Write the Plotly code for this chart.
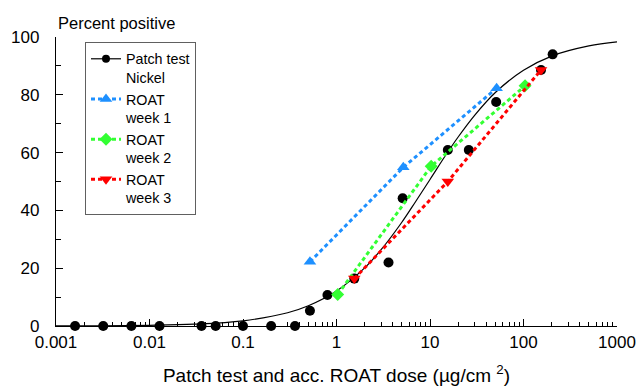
import plotly.graph_objects as go

# Patch test nickel (observed)
patch_x = [0.0016, 0.0032, 0.0064, 0.0128, 0.036, 0.051, 0.1, 0.2, 0.36, 0.52,
           0.8, 1.55, 3.6, 5.1, 15.5, 26, 51, 154, 205]
patch_y = [0, 0, 0, 0, 0, 0, 0, 0, 0, 5.3,
           10.7, 16.4, 22, 44.2, 60.9, 60.9, 77.5, 88.6, 94.0]

# Fitted dose-response curve
curve_x = [0.001, 0.003, 0.01, 0.03, 0.1, 0.3, 0.5, 1, 2, 3, 5, 7, 10, 15, 20, 30, 50, 100, 200, 500, 1000]
curve_y = [0.03, 0.08, 0.24, 0.63, 1.8, 4.6, 7.0, 12.1, 20.1, 26.4, 35.9, 43.0, 50.7, 59.5, 65.4, 72.9, 80.8, 88.5, 93.4, 96.9, 98.3]

# ROAT accumulated doses
w1_x = [0.52, 5.18, 51.6]
w1_y = [22.2, 54.9, 82.3]
w2_x = [1.03, 10.3, 104]
w2_y = [10.9, 55.3, 83.1]
w3_x = [1.55, 15.5, 154]
w3_y = [16.4, 50.0, 88.6]

xtick_vals = [0.001, 0.01, 0.1, 1, 10, 100, 1000]
xtick_text = ["0.001", "0.01", "0.1", "1", "10", "100", "1000"]
ytick_vals = [0, 20, 40, 60, 80, 100]

minor_x = [m * d for d in [0.001, 0.01, 0.1, 1, 10, 100] for m in range(2, 10)]

FONT = "Liberation Sans, Arial, sans-serif"
BLUE = "#1E90FF"
GREEN = "#33FF33"
RED = "#FF0000"
DASH = "4px,3px"

ML, MR, MT, MB = 56, 22, 37, 61
W, H = 639, 387

fig = go.Figure()

fig.add_trace(go.Scatter(x=curve_x, y=curve_y, mode="lines", line=dict(color="black", width=1.2, shape="spline"),
                         showlegend=False, hoverinfo="skip", cliponaxis=False))
fig.add_trace(go.Scatter(x=patch_x, y=patch_y, mode="markers", name="Patch test<br>Nickel",
                         marker=dict(symbol="circle", size=10, color="black"), showlegend=False, cliponaxis=False))
fig.add_trace(go.Scatter(x=[None], y=[None], mode="lines+markers", name="Patch test<br>Nickel",
                         line=dict(color="black", width=1.2), marker=dict(symbol="circle", size=8, color="black")))
fig.add_trace(go.Scatter(x=w1_x, y=w1_y, mode="lines+markers", name="ROAT<br>week 1",
                         line=dict(color=BLUE, width=3, dash=DASH),
                         marker=dict(symbol="triangle-up", size=11, color=BLUE), cliponaxis=False))
fig.add_trace(go.Scatter(x=w2_x, y=w2_y, mode="lines+markers", name="ROAT<br>week 2",
                         line=dict(color=GREEN, width=3, dash=DASH),
                         marker=dict(symbol="diamond", size=10, color=GREEN), cliponaxis=False))
fig.add_trace(go.Scatter(x=w3_x, y=w3_y, mode="lines+markers", name="ROAT<br>week 3",
                         line=dict(color=RED, width=3, dash=DASH),
                         marker=dict(symbol="triangle-down", size=11, color=RED), cliponaxis=False))

plot_w = W - ML - MR
plot_h = H - MT - MB

fig.update_layout(
    width=W, height=H,
    margin=dict(l=ML, r=MR, t=MT, b=MB, autoexpand=False),
    paper_bgcolor="white", plot_bgcolor="white",
    font=dict(family=FONT, size=17, color="black"),
    xaxis=dict(type="log", range=[-3, 3], tickmode="array", tickvals=xtick_vals, ticktext=xtick_text,
               ticks="inside", ticklen=7, tickcolor="black", tickwidth=1, automargin=False,
               showline=True, linecolor="black", linewidth=1.3, showgrid=False, zeroline=False,
               minor=dict(tickmode="array", tickvals=minor_x, ticks="inside", ticklen=4, tickcolor="black", showgrid=False),
               title=dict(text="Patch test and acc. ROAT dose (µg/cm <sup>2</sup>)", font=dict(size=19), standoff=18)),
    yaxis=dict(range=[0, 100], tickmode="array", tickvals=ytick_vals, automargin=False,
               ticks="inside", ticklen=7, tickcolor="black", tickwidth=1,
               showline=True, linecolor="black", linewidth=1.3, showgrid=False, zeroline=False,
               minor=dict(dtick=10, ticks="inside", ticklen=5, tickcolor="black", showgrid=False),
               ticklabelstandoff=12),
    legend=dict(x=(85 - ML) / plot_w, y=1 - (42 - MT) / plot_h, yanchor="top", xanchor="left",
                bordercolor="#606060", borderwidth=1, bgcolor="white",
                font=dict(size=14.3), valign="top", itemwidth=30, tracegroupgap=4),
    annotations=[dict(text="Percent positive", xref="paper", yref="paper", x=0, y=1, xanchor="left", yanchor="bottom",
                      showarrow=False, yshift=3, font=dict(size=16.5))],
)

fig.write_html("out.html", config={"displayModeBar": False},
               post_script="document.body.style.margin='0';document.body.style.padding='0';")
